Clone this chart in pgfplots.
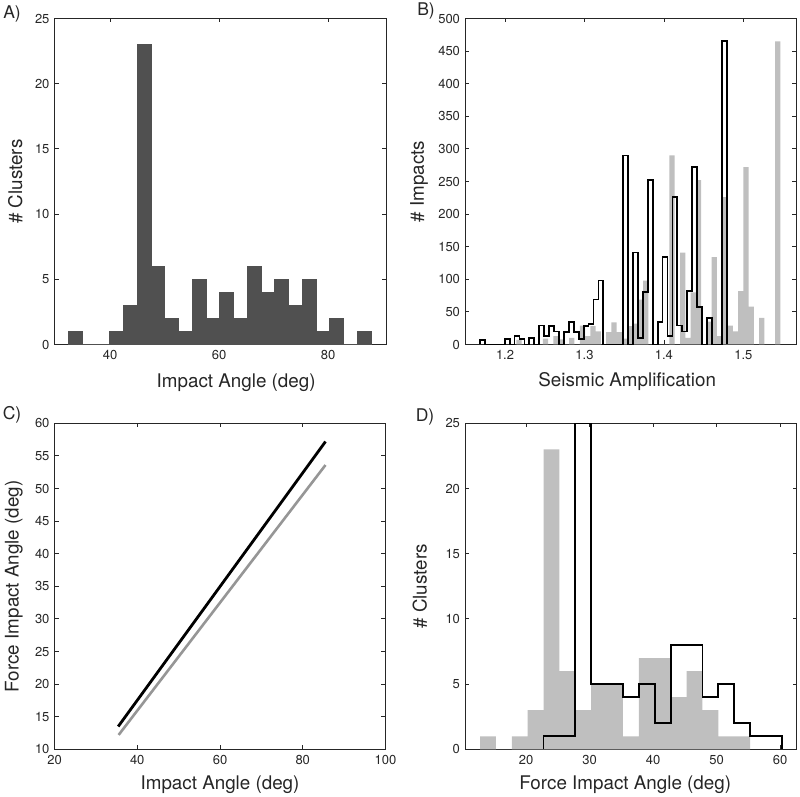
\documentclass[border=0pt]{standalone}
\usepackage{fontspec}
\setmainfont{TeX Gyre Heros}
\usepackage{pgfplots}
\pgfplotsset{compat=1.18}
\definecolor{axc}{RGB}{38,38,38}
\definecolor{barA}{RGB}{80,80,80}
\definecolor{barG}{RGB}{191,191,191}
\definecolor{lineG}{RGB}{150,150,150}

\newcommand{\tfont}{\fontsize{13}{15}\selectfont}
\newcommand{\lfont}{\fontsize{18.8}{21}\selectfont}

\pgfplotsset{
  every axis/.append style={
    scale only axis,
    anchor=south west,
    axis line style={axc, line width=0.9pt},
    tick style={axc, line width=0.8pt},
    major tick length=4pt,
    tick align=inside,
    tick label style={font=\tfont, text=axc},
    xticklabel style={yshift=-2pt},
    yticklabel style={xshift=-1.5pt},
    /pgf/number format/assume math mode=true,
  },
}

\begin{document}
\begin{tikzpicture}[x=1pt,y=1pt]
\path[use as bounding box] (0,0) rectangle (800,797);

% ---------------- A ----------------
\begin{axis}[at={(54.5pt,452.5pt)}, width=331.5pt, height=326pt,
  xmin=29.8, xmax=90.6, ymin=0, ymax=25,
  xtick={40,60,80}, ytick={0,5,10,15,20,25},
  xlabel={Impact Angle (deg)}, ylabel={\# Clusters},
  every axis x label/.style={at={(axis description cs:0.548,-0.117)}, anchor=center, font=\lfont, text=axc},
  every axis y label/.style={at={(axis description cs:-0.118,0.5)}, rotate=90, anchor=center, font=\lfont, text=axc}]
\addplot[ybar interval, fill=barA, draw=barA, line width=0.5pt] table {
x y
32.36 1
34.88 0
37.40 0
39.92 1
42.44 3
44.97 23
47.49 6
50.01 2
52.53 1
55.05 5
57.57 2
60.09 4
62.61 2
65.13 6
67.65 4
70.18 5
72.70 3
75.22 5
77.74 1
80.26 2
82.78 0
85.30 1
87.82 1
};
\end{axis}

% ---------------- B ----------------
\begin{axis}[at={(465pt,452.5pt)}, width=331pt, height=326pt,
  xmin=1.1496, xmax=1.5663, ymin=0, ymax=500,
  xtick={1.2,1.3,1.4,1.5}, ytick={0,50,...,500},
  xticklabel style={/pgf/number format/.cd, fixed, precision=1, fixed zerofill},
  xlabel={Seismic Amplification}, ylabel={\# Impacts},
  every axis x label/.style={at={(axis description cs:0.49,-0.114)}, anchor=center, font=\lfont, text=axc},
  every axis y label/.style={at={(axis description cs:-0.139,0.5)}, rotate=90, anchor=center, font=\lfont, text=axc}]
\addplot[ybar interval, fill=barG, draw=none] table {
x y
1.21435 7
1.22099 0
1.22764 0
1.23428 0
1.24092 0
1.24757 9
1.25421 0
1.26085 13
1.26749 8
1.27414 0
1.28078 10
1.28742 0
1.29407 29
1.30071 13
1.30735 28
1.31400 20
1.32064 0
1.32728 19
1.33392 34
1.34057 19
1.34721 9
1.35385 28
1.36050 32
1.36714 69
1.37378 98
1.38043 0
1.38707 0
1.39371 0
1.40035 0
1.40700 290
1.41364 0
1.42028 141
1.42693 10
1.43357 80
1.44021 252
1.44686 0
1.45350 35
1.46014 134
1.46678 13
1.47343 226
1.48007 29
1.48671 20
1.49336 82
1.50000 272
1.50664 58
1.51329 0
1.51993 41
1.52657 0
1.53321 0
1.53986 465
1.54650 465
};
\addplot[const plot mark left, black, line width=1.8pt, line join=miter] table {
x y
1.16853 0
1.16853 7
1.17474 0
1.18095 0
1.18716 0
1.19337 0
1.19959 9
1.20580 0
1.21201 13
1.21822 8
1.22443 0
1.23064 10
1.23685 0
1.24306 29
1.24927 13
1.25548 28
1.26170 20
1.26791 0
1.27412 19
1.28033 34
1.28654 19
1.29275 9
1.29896 28
1.30517 32
1.31138 69
1.31759 98
1.32381 0
1.33002 0
1.33623 0
1.34244 0
1.34865 290
1.35486 0
1.36107 141
1.36728 10
1.37349 80
1.37970 252
1.38592 0
1.39213 35
1.39834 134
1.40455 13
1.41076 226
1.41697 29
1.42318 20
1.42939 82
1.43560 272
1.44181 58
1.44803 0
1.45424 41
1.46045 0
1.46666 0
1.47287 465
1.47908 0
};
\end{axis}

% ---------------- C ----------------
\begin{axis}[at={(54.5pt,47.7pt)}, width=331pt, height=326pt,
  xmin=20, xmax=100, ymin=10, ymax=60,
  xtick={20,40,...,100}, ytick={10,15,...,60},
  xlabel={Impact Angle (deg)}, ylabel={Force Impact Angle (deg)},
  every axis x label/.style={at={(axis description cs:0.5,-0.108)}, anchor=center, font=\lfont, text=axc},
  every axis y label/.style={at={(axis description cs:-0.123,0.5)}, rotate=90, anchor=center, font=\lfont, text=axc}]
\addplot[lineG, line width=2.6pt] coordinates {(35.5,12.2) (85.5,53.6)};
\addplot[black, line width=2.8pt] coordinates {(35.4,13.5) (85.5,57.2)};
\end{axis}

% ---------------- D ----------------
\begin{axis}[at={(465pt,47.7pt)}, width=331.7pt, height=326pt,
  xmin=10.4, xmax=62.6, ymin=0, ymax=25,
  xtick={20,30,...,60}, ytick={0,5,...,25},
  xlabel={Force Impact Angle (deg)}, ylabel={\# Clusters},
  every axis x label/.style={at={(axis description cs:0.483,-0.11)}, anchor=center, font=\lfont, text=axc},
  every axis y label/.style={at={(axis description cs:-0.136,0.5)}, rotate=90, anchor=center, font=\lfont, text=axc}]
\addplot[ybar interval, fill=barG, draw=none] table {
x y
12.76 1
15.26 0
17.76 1
20.26 3
22.76 23
25.26 6
27.76 3
30.26 5
32.76 5
35.26 1
37.76 7
40.26 7
42.76 4
45.26 6
47.76 3
50.26 1
52.76 1
55.26 1
};
\addplot[const plot mark left, black, line width=1.8pt, line join=miter] table {
x y
22.76 0
22.76 1
25.26 1
27.76 25
30.26 5
32.76 5
35.26 4
37.76 5
40.26 2
42.76 8
45.26 8
47.76 4
50.26 5
52.76 2
55.26 1
57.76 1
60.26 0
};
\end{axis}

\node[font=\fontsize{17.5}{20}\selectfont, text=axc] at (12,783) {A)};
\node[font=\fontsize{17.5}{20}\selectfont, text=axc] at (426,786) {B)};
\node[font=\fontsize{17.5}{20}\selectfont, text=axc] at (12,382) {C)};
\node[font=\fontsize{17.5}{20}\selectfont, text=axc] at (425,380) {D)};
\end{tikzpicture}
\end{document}
